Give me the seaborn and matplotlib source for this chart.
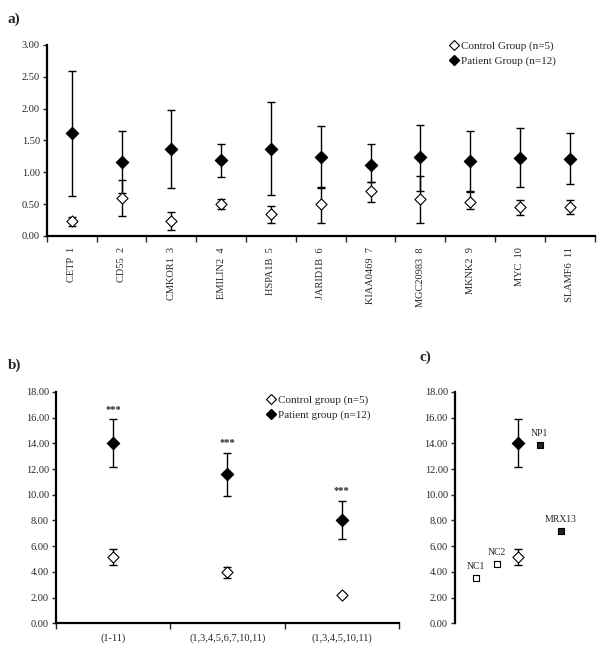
import numpy as np
import pandas as pd
import matplotlib
matplotlib.use("Agg")
import matplotlib.pyplot as plt
from matplotlib.lines import Line2D
import seaborn as sns

sns.set_style("ticks")
plt.rcParams['font.family'] = ['Liberation Serif', 'DejaVu Serif']

# ---- panel a data: per-gene mean and error bar ends
genes = ["CETP  1", "CD55  2", "CMKOR1  3", "EMILIN2  4", "HSPA1B  5", "JARID1B  6",
         "KIAA0469  7", "MGC20983  8", "MKNK2  9", "MYC  10", "SLAMF6  11"]
ctrl_mean = [0.23, 0.60, 0.23, 0.50, 0.34, 0.50, 0.70, 0.58, 0.54, 0.45, 0.46]
ctrl_lo = [0.16, 0.32, 0.09, 0.42, 0.20, 0.20, 0.54, 0.20, 0.42, 0.33, 0.35]
ctrl_hi = [0.30, 0.88, 0.37, 0.58, 0.47, 0.77, 0.85, 0.95, 0.69, 0.56, 0.56]
pat_mean = [1.61, 1.17, 1.36, 1.19, 1.37, 1.24, 1.12, 1.24, 1.18, 1.22, 1.21]
pat_lo = [0.63, 0.68, 0.75, 0.93, 0.65, 0.75, 0.85, 0.70, 0.71, 0.77, 0.81]
pat_hi = [2.59, 1.65, 1.98, 1.45, 2.11, 1.72, 1.45, 1.75, 1.65, 1.69, 1.62]

# ---- panel b data: gene-set sums
sets = ["(1-11)", "(1,3,4,5,6,7,10,11)", "(1,3,4,5,10,11)"]
set_ctrl_mean = [5.18, 3.97, 2.20]
set_ctrl_lo = [4.54, 3.55, 2.02]
set_ctrl_hi = [5.78, 4.40, 2.38]
set_pat_mean = [14.02, 11.60, 8.04]
set_pat_lo = [12.19, 9.90, 6.53]
set_pat_hi = [15.87, 13.25, 9.54]

# ---- panel c data: individual samples vs group means
samples = ["NC1", "NC2", "NP1", "MRX13"]
sample_pos = [1, 2, 4, 5]
sample_val = [3.52, 4.61, 13.85, 7.16]
sample_filled = [False, False, True, True]
group_pos = 3
grp_ctrl = (5.18, 4.54, 5.78)
grp_pat = (14.02, 12.19, 15.87)


def draw_groups(ax, x, c_m, c_lo, c_hi, p_m, p_lo, p_hi):
    c_m, c_lo, c_hi = map(np.asarray, (c_m, c_lo, c_hi))
    p_m, p_lo, p_hi = map(np.asarray, (p_m, p_lo, p_hi))
    ax.errorbar(x, p_m, yerr=[p_m - p_lo, p_hi - p_m], fmt="none",
                ecolor="black", elinewidth=1, capsize=3, capthick=1, zorder=2)
    ax.errorbar(x, c_m, yerr=[c_m - c_lo, c_hi - c_m], fmt="none",
                ecolor="black", elinewidth=1, capsize=3, capthick=1, zorder=2)
    sns.scatterplot(x=x, y=c_m, ax=ax, marker="D", s=32, color="white",
                    edgecolor="black", linewidth=0.8, zorder=3, legend=False)
    sns.scatterplot(x=x, y=p_m, ax=ax, marker="D", s=40, color="black",
                    edgecolor="black", linewidth=0.8, zorder=3, legend=False)


def style_axis(ax):
    sns.despine(ax=ax)
    for s in ["left", "bottom"]:
        ax.spines[s].set_linewidth(1.6)
        ax.spines[s].set_color("black")
    ax.tick_params(axis="y", labelsize=7.5, length=3, width=1, pad=2)
    ax.yaxis.set_major_formatter(matplotlib.ticker.FormatStrFormatter("%.2f"))


def legend_handles(ctrl_label, pat_label):
    return [Line2D([], [], ls="none", marker="D", ms=5, mfc="white", mec="black", mew=0.8,
                   label=ctrl_label),
            Line2D([], [], ls="none", marker="D", ms=5.5, mfc="black", mec="black",
                   label=pat_label)]


fig = plt.figure(figsize=(6, 6.53), dpi=100)

# ---------------- panel a
ax_a = fig.add_axes([0.078, 0.6386, 0.913, 0.2925])
xa = np.arange(len(genes))
draw_groups(ax_a, xa, ctrl_mean, ctrl_lo, ctrl_hi, pat_mean, pat_lo, pat_hi)
style_axis(ax_a)
ax_a.set_ylim(0, 3)
ax_a.set_yticks(np.arange(0, 3.01, 0.5))
ax_a.set_xlim(-0.5, len(genes) - 0.5)
ax_a.set_xticks(np.arange(-0.5, len(genes), 1.0))
ax_a.set_xticklabels([])
ax_a.set_xticks(xa, minor=True)
ax_a.set_xticklabels(genes, minor=True, rotation=90, fontsize=7.5)
ax_a.tick_params(axis="x", which="major", length=4, width=1)
ax_a.tick_params(axis="x", which="minor", length=0, pad=8)
ax_a.legend(handles=legend_handles("Control Group (n=5)", "Patient Group (n=12)"),
            loc="upper left", bbox_to_anchor=(0.735, 1.02), frameon=False,
            fontsize=8, handlelength=0.8, handletextpad=0.2, borderpad=0,
            borderaxespad=0, labelspacing=0.4)
fig.text(0.013, 0.965, "a)", fontsize=11, fontweight="bold")

# ---------------- panel b
ax_b = fig.add_axes([0.0933, 0.0455, 0.5717, 0.3542])
xb = np.arange(len(sets))
draw_groups(ax_b, xb, set_ctrl_mean, set_ctrl_lo, set_ctrl_hi,
            set_pat_mean, set_pat_lo, set_pat_hi)
for xi, top in zip(xb, set_pat_hi):
    ax_b.text(xi, top + 0.45, "***", ha="center", va="bottom", fontsize=7.5,
              fontweight="bold")
style_axis(ax_b)
ax_b.set_ylim(0, 18)
ax_b.set_yticks(np.arange(0, 18.1, 2))
ax_b.set_xlim(-0.5, len(sets) - 0.5)
ax_b.set_xticks(np.arange(-0.5, len(sets), 1.0))
ax_b.set_xticklabels([])
ax_b.set_xticks(xb, minor=True)
ax_b.set_xticklabels(sets, minor=True, fontsize=7.5)
ax_b.tick_params(axis="x", which="major", length=4, width=1)
ax_b.tick_params(axis="x", which="minor", length=0, pad=7)
ax_b.legend(handles=legend_handles("Control group (n=5)", "Patient group (n=12)"),
            loc="upper left", bbox_to_anchor=(0.615, 0.985), frameon=False,
            fontsize=8, handlelength=0.8, handletextpad=0.2, borderpad=0,
            borderaxespad=0, labelspacing=0.4)
fig.text(0.013, 0.435, "b)", fontsize=11, fontweight="bold")

# ---------------- panel c
ax_c = fig.add_axes([0.758, 0.0455, 0.212, 0.3542])
draw_groups(ax_c, [group_pos], [grp_ctrl[0]], [grp_ctrl[1]], [grp_ctrl[2]],
            [grp_pat[0]], [grp_pat[1]], [grp_pat[2]])
df_c = pd.DataFrame({"pos": sample_pos, "val": sample_val, "name": samples,
                     "filled": sample_filled})
open_df = df_c[~df_c.filled]
full_df = df_c[df_c.filled]
sns.scatterplot(data=open_df, x="pos", y="val", ax=ax_c, marker="s", s=14,
                color="white", edgecolor="black", linewidth=0.8, zorder=3)
sns.scatterplot(data=full_df, x="pos", y="val", ax=ax_c, marker="s", s=14,
                color="#222222", edgecolor="black", linewidth=0.8, zorder=3)
for _, r in df_c.iterrows():
    ax_c.text(r.pos, r.val + 0.55, r["name"], ha="center", va="bottom", fontsize=7)
style_axis(ax_c)
ax_c.spines["bottom"].set_visible(False)
ax_c.set_xticks([])
ax_c.set_xlabel("")
ax_c.set_ylabel("")
ax_c.set_xlim(0, 6)
ax_c.set_ylim(0, 18)
ax_c.set_yticks(np.arange(0, 18.1, 2))
fig.text(0.70, 0.447, "c)", fontsize=11, fontweight="bold")

for ax in (ax_a, ax_b):
    ax.set_xlabel("")
    ax.set_ylabel("")

fig.savefig("out.png", dpi=100, facecolor="white")
